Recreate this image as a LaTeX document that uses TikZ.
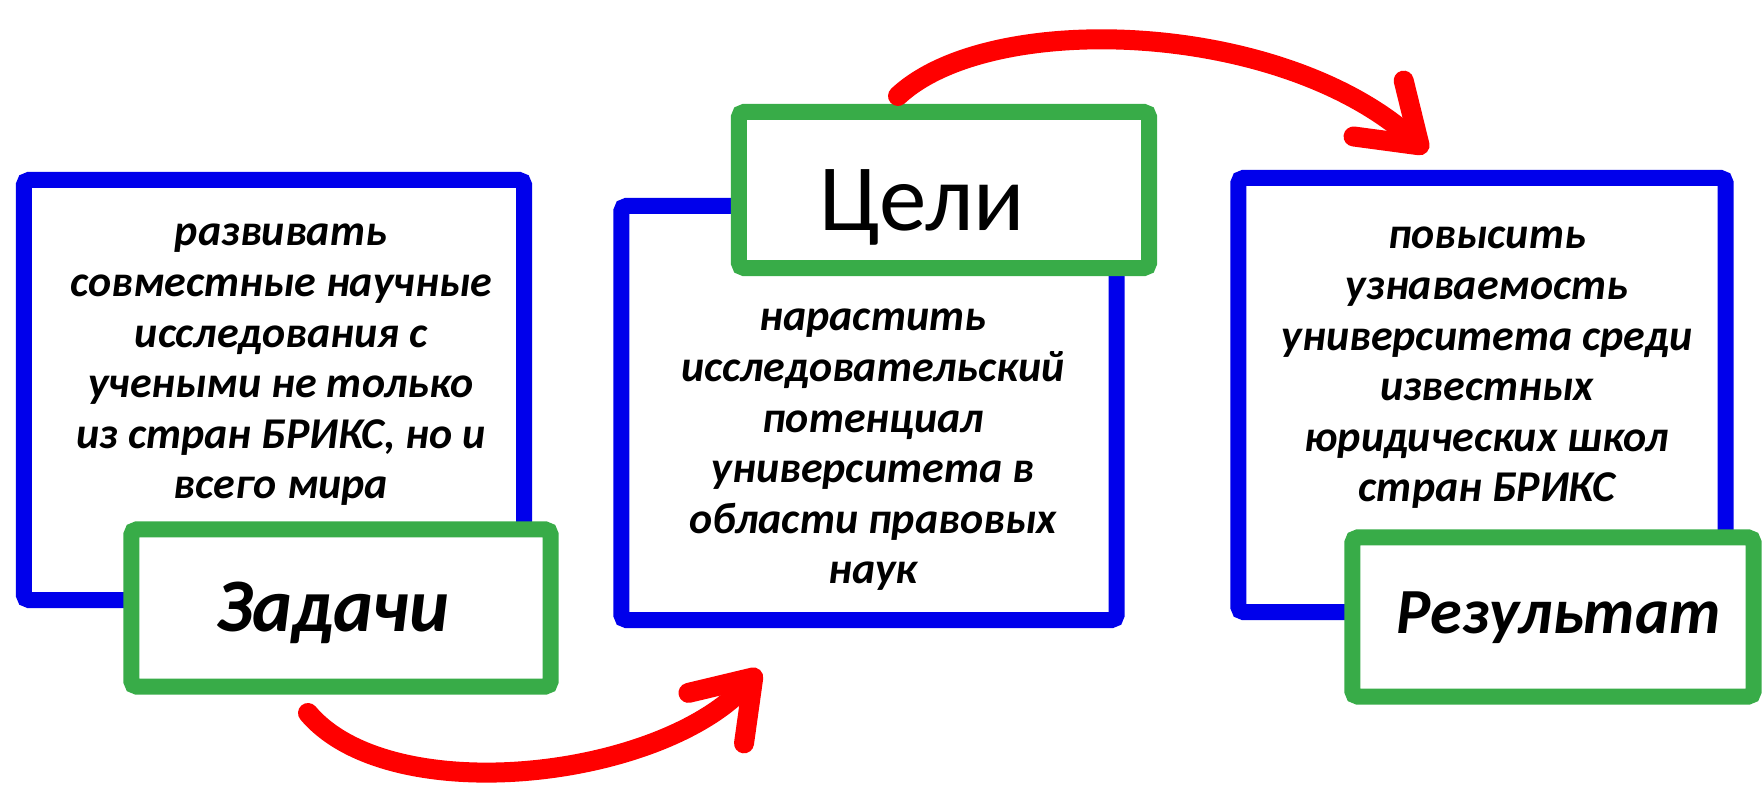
\documentclass[tikz,border=0pt]{standalone}
\usepackage{fontspec}
\setmainfont{Carlito}
\usetikzlibrary{arrows.meta}
\definecolor{blueink}{RGB}{0,0,235}
\definecolor{greenink}{RGB}{56,172,72}
\definecolor{redink}{RGB}{255,0,0}
\tikzset{
  bigbox/.style={draw=blueink, line width=0.16cm, rounded corners=1.5pt, inner sep=0pt},
  tagbox/.style={draw=greenink, line width=0.16cm, fill=white, rounded corners=1.5pt, inner sep=0pt},
  note/.style={align=center, font=\bfseries\itshape\fontsize{12.5}{14.4}\selectfont},
  tag/.style={font=\bfseries\itshape\fontsize{21.5}{26}\selectfont},
  flow/.style={draw=redink, line width=0.2cm, line cap=round,
    -{Straight Barb[length=0.55cm, width=0.75cm, round]}},
}
\begin{document}
\begin{tikzpicture}[x=0.01cm, y=-0.01cm]
  \useasboundingbox (0,0) rectangle (1763,794);
  % blue frames
  \node[bigbox, minimum width=5.00cm, minimum height=4.20cm] (tasksbox) at (274,390) {};
  \node[bigbox, minimum width=4.95cm, minimum height=4.14cm] (goalsbox) at (869,413) {};
  \node[bigbox, minimum width=4.87cm, minimum height=4.34cm] (resultbox) at (1482,395) {};
  % green tags
  \node[tagbox, minimum width=4.19cm, minimum height=1.57cm] (taskstag) at (341,608) {};
  \node[tagbox, minimum width=4.10cm, minimum height=1.56cm] (goalstag) at (944,190) {};
  \node[tagbox, minimum width=4.01cm, minimum height=1.59cm] (resulttag) at (1553,617) {};
  % labels
  \node[tag] (tasks) at (333,613) {Задачи};
  \node[font=\fontsize{27}{32}\selectfont] (goals) at (922,207) {Цели};
  \node[tag, font=\bfseries\itshape\fontsize{18.3}{22}\selectfont] (result) at (1559,618) {Результат};
  % texts
  \node[note] (taskstext) at (281,365) {развивать\\совместные научные\\исследования с\\учеными не только\\из стран БРИКС, но и\\всего мира};
  \node[note] (goalstext) at (873,450) {нарастить\\исследовательский\\потенциал\\университета в\\области правовых\\наук};
  \node[note] (resulttext) at (1487,368) {повысить\\узнаваемость\\университета среди\\известных\\юридических школ\\стран БРИКС};
  % arrows
  \coordinate (a1) at (308,713);
  \coordinate (a2) at (760,670);
  \coordinate (b1) at (898,96);
  \coordinate (b2) at (1427,152);
  \draw[flow] (a1) .. controls (390,810) and (660,780) .. (a2);
  \draw[flow] (b1) .. controls (990,10) and (1280,20) .. (b2);
\end{tikzpicture}
\end{document}
